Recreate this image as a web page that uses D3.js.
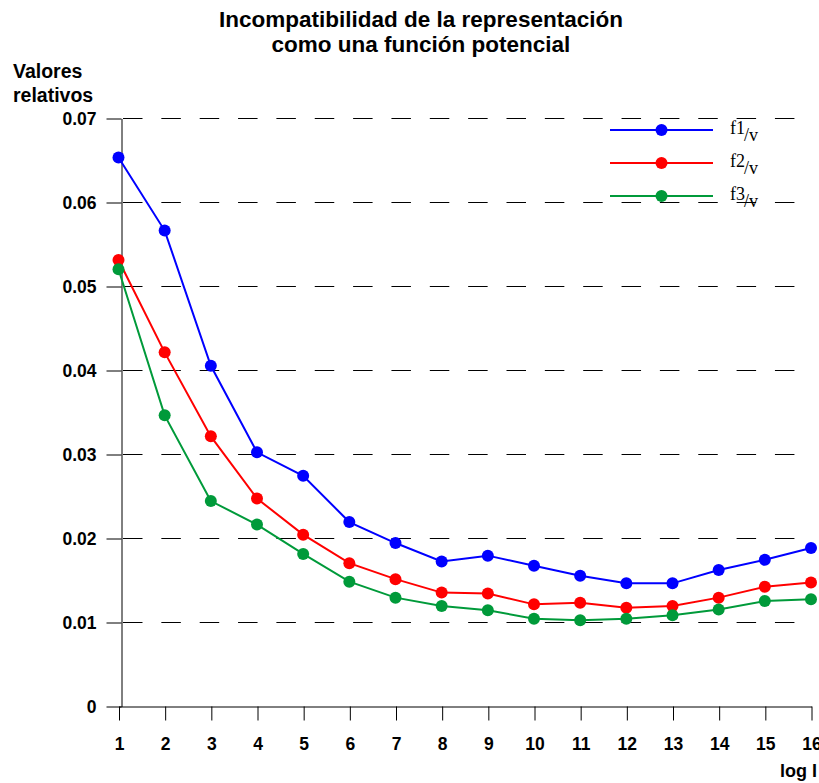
<!DOCTYPE html>
<html>
<head>
<meta charset="utf-8">
<script src="https://cdn.jsdelivr.net/npm/d3@7"></script>
<style>
  body { margin: 0; background: #fff; }
  svg text { font-family: "Liberation Sans", Arial, sans-serif; font-weight: bold; fill: #000; }
  .legend text { font-family: "Liberation Serif", "Times New Roman", serif; font-weight: normal; }
</style>
</head>
<body>
<svg id="chart" width="819" height="783"></svg>
<script>
// data
var xValues = [1, 2, 3, 4, 5, 6, 7, 8, 9, 10, 11, 12, 13, 14, 15, 16]
var f1 = [0.0653, 0.0566, 0.0405, 0.0302, 0.0274, 0.0219, 0.0194, 0.0172, 0.0179, 0.0167, 0.0155, 0.0146, 0.0146, 0.0162, 0.0174, 0.0188]
var f2 = [0.0531, 0.0421, 0.0321, 0.0247, 0.0204, 0.0170, 0.0151, 0.0135, 0.0134, 0.0121, 0.0123, 0.0117, 0.0119, 0.0129, 0.0142, 0.0147]
var f3 = [0.0520, 0.0346, 0.0244, 0.0216, 0.0181, 0.0148, 0.0129, 0.0119, 0.0114, 0.0104, 0.0102, 0.0104, 0.0108, 0.0115, 0.0125, 0.0127]
var yTicks = [0, 0.01, 0.02, 0.03, 0.04, 0.05, 0.06, 0.07]
var seriesNames = ["f1", "f2", "f3"]
var seriesColors = ["#0000ff", "#ff0000", "#009a3a"]

var svg = d3.select("#chart")

var x = d3.scaleLinear().domain([1, 16]).range([118.5, 811])
var y = d3.scaleLinear().domain([0, 0.07]).range([706, 118])
var axisX = 121

// title
var title = svg.append("g").attr("text-anchor", "middle").style("font-size", "22.5px")
title.append("text").attr("x", 421).attr("y", 27).text("Incompatibilidad de la representación")
title.append("text").attr("x", 421).attr("y", 52).text("como una función potencial")

// y axis label
svg.append("text").attr("x", 13).attr("y", 78).style("font-size", "19.5px").text("Valores")
svg.append("text").attr("x", 13).attr("y", 102).style("font-size", "19.5px").text("relativos")

// dashed grid lines
svg.append("g").selectAll("line")
    .data(yTicks.filter(function(d) { return d > 0 }))
    .enter().append("line")
    .attr("x1", axisX).attr("x2", 811)
    .attr("y1", function(d) { return Math.round(y(d)) + 0.5 })
    .attr("y2", function(d) { return Math.round(y(d)) + 0.5 })
    .attr("stroke", "#000")
    .attr("stroke-width", 1)
    .attr("stroke-dasharray", "19.5 18.85")
    .attr("stroke-dashoffset", -2)

// y axis
var gy = svg.append("g")
    .attr("transform", "translate(" + (axisX + 0.5) + ",0.5)")
    .call(d3.axisLeft(y).tickValues(yTicks).tickSize(15).tickSizeOuter(0).tickPadding(10)
        .tickFormat(function(d) { return d === 0 ? "0" : d3.format(".2f")(d) }))
gy.selectAll("text").style("font-size", "17.5px").style("font-family", "Liberation Sans, Arial, sans-serif")
gy.selectAll("path, line").attr("stroke", "#000")

// x axis
var gx = svg.append("g")
    .attr("transform", "translate(0.5,706.5)")
    .call(d3.axisBottom(x).tickValues(xValues).tickSize(14).tickSizeOuter(0).tickPadding(17)
        .tickFormat(d3.format("d")))
gx.selectAll("text").style("font-size", "17.5px").style("font-family", "Liberation Sans, Arial, sans-serif")
gx.selectAll("path, line").attr("stroke", "#000")

svg.append("text").attr("x", 780).attr("y", 777).style("font-size", "18px").text("log I")

// series
var allSeries = [f1, f2, f3]
var line = d3.line()
    .x(function(d, i) { return x(xValues[i]) })
    .y(function(d) { return y(d) })

allSeries.forEach(function(vals, s) {
    var g = svg.append("g")
    g.append("path")
        .attr("d", line(vals))
        .attr("fill", "none")
        .attr("stroke", seriesColors[s])
        .attr("stroke-width", 2)
    g.selectAll("circle")
        .data(vals)
        .enter().append("circle")
        .attr("cx", function(d, i) { return x(xValues[i]) })
        .attr("cy", function(d) { return y(d) })
        .attr("r", 6)
        .attr("fill", seriesColors[s])
})

// legend
var legend = svg.append("g").attr("class", "legend")
var legendY = [130, 163, 196]
seriesNames.forEach(function(name, s) {
    var row = legend.append("g").attr("transform", "translate(0," + legendY[s] + ")")
    row.append("line")
        .attr("x1", 610).attr("x2", 713)
        .attr("stroke", seriesColors[s]).attr("stroke-width", 2)
    row.append("circle").attr("cx", 661.5).attr("r", 6).attr("fill", seriesColors[s])
    var t = row.append("text").attr("x", 730).attr("y", 3.5).style("font-size", "18px")
    t.append("tspan").text(name)
    t.append("tspan").attr("dx", -1).attr("dy", 7).text("/v")
})
</script>
</body>
</html>
